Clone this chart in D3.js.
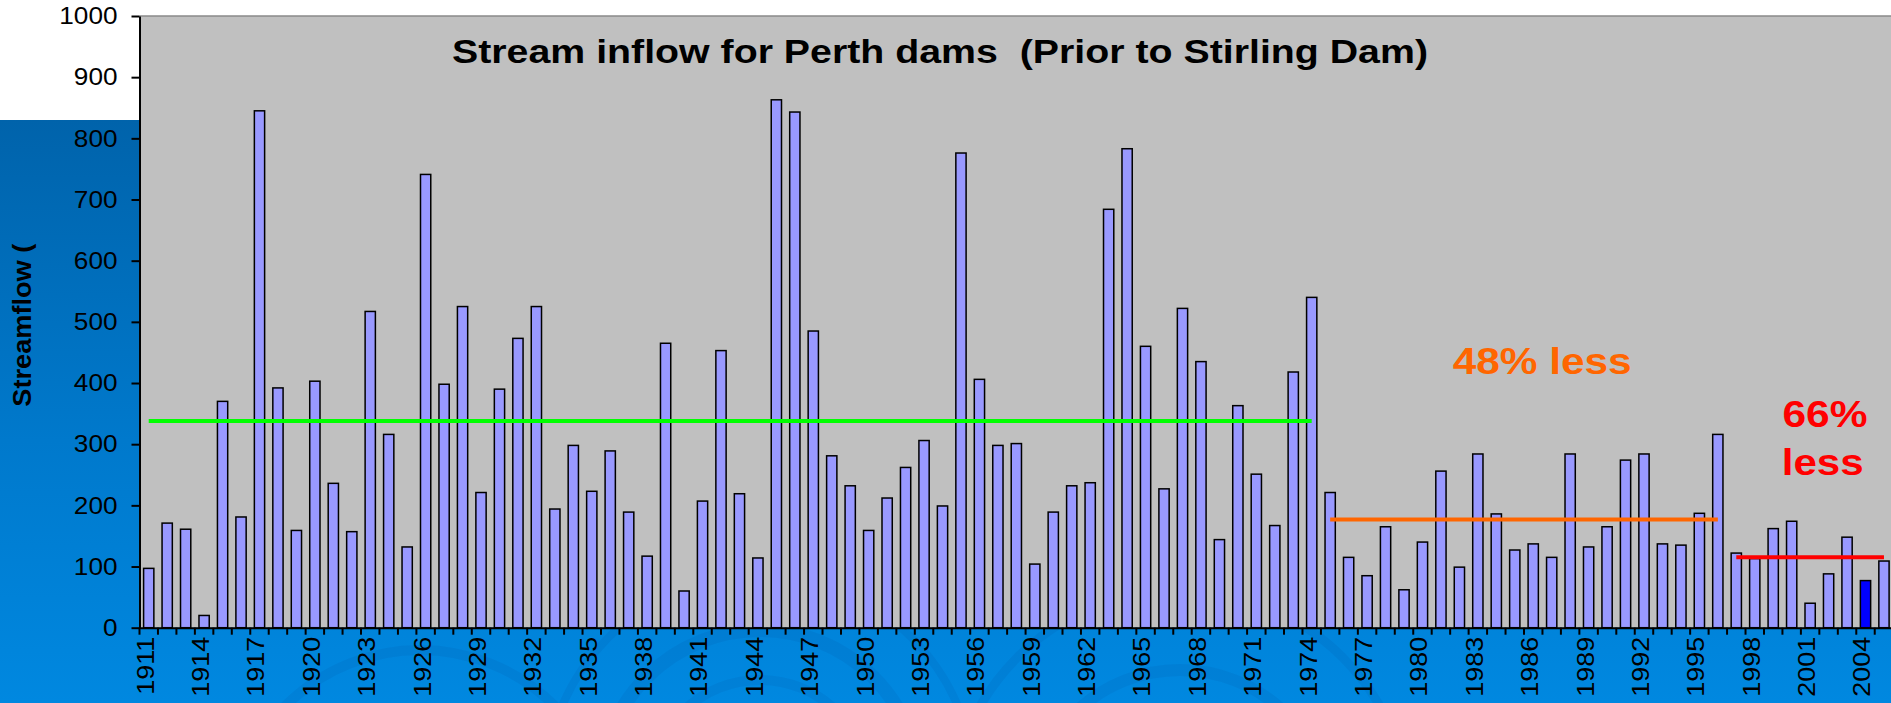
<!DOCTYPE html>
<html>
<head>
<meta charset="utf-8">
<script src="https://cdn.jsdelivr.net/npm/d3@7"></script>
<style>
  html, body { margin: 0; padding: 0; background: #fff; overflow: hidden; }
  svg { display: block; }
  text { white-space: pre; }
</style>
</head>
<body>
<svg id="chart" width="1891" height="703"></svg>
<script>
// Annual stream inflow to Perth dams, 1911–2005
const years = [
  1911, 1912, 1913, 1914, 1915, 1916, 1917, 1918, 1919, 1920,
  1921, 1922, 1923, 1924, 1925, 1926, 1927, 1928, 1929, 1930,
  1931, 1932, 1933, 1934, 1935, 1936, 1937, 1938, 1939, 1940,
  1941, 1942, 1943, 1944, 1945, 1946, 1947, 1948, 1949, 1950,
  1951, 1952, 1953, 1954, 1955, 1956, 1957, 1958, 1959, 1960,
  1961, 1962, 1963, 1964, 1965, 1966, 1967, 1968, 1969, 1970,
  1971, 1972, 1973, 1974, 1975, 1976, 1977, 1978, 1979, 1980,
  1981, 1982, 1983, 1984, 1985, 1986, 1987, 1988, 1989, 1990,
  1991, 1992, 1993, 1994, 1995, 1996, 1997, 1998, 1999, 2000,
  2001, 2002, 2003, 2004, 2005
];
const inflow = [
  97, 171, 161, 20, 370, 181, 845, 392, 159, 403,
  236, 157, 517, 316, 132, 741, 398, 525, 221, 390,
  473, 525, 194, 298, 223, 289, 189, 117, 465, 60,
  207, 453, 219, 114, 863, 843, 485, 281, 232, 159,
  212, 262, 306, 199, 776, 406, 298, 301, 104, 189,
  232, 237, 684, 783, 460, 227, 522, 435, 144, 363,
  251, 167, 418, 540, 221, 115, 85, 165, 62, 140,
  256, 99, 284, 186, 127, 137, 115, 284, 132, 165,
  274, 284, 137, 135, 187, 316, 122, 113, 162, 174,
  40, 88, 148, 77, 109
];
const highlightYear = 2004;

const labelYears = [
  1911, 1914, 1917, 1920, 1923, 1926, 1929, 1932, 1935, 1938, 1941,
  1944, 1947, 1950, 1953, 1956, 1959, 1962, 1965, 1968, 1971, 1974,
  1977, 1980, 1983, 1986, 1989, 1992, 1995, 1998, 2001, 2004
];
const yTicks = [0, 100, 200, 300, 400, 500, 600, 700, 800, 900, 1000];

// Period averages
const periodStart = [1911, 1975, 1997];
const periodEnd   = [1974, 1996, 2005];
const periodMean  = [338, 177, 115];

const periodColors = ["#00ff00", "#ff6600", "#ff0000"];
const FONT = "'Liberation Sans', Arial, Helvetica, sans-serif";

const W = 1891, H = 703;
const plot = { left: 139.5, top: 16, bottom: 627.7, right: 139.5 + years.length * 18.46 };

const svg = d3.select("#chart");

// ---------- background ----------
const defs = svg.append("defs");
const grad = defs.append("linearGradient")
  .attr("id", "bgBlue").attr("x1", 0).attr("y1", 0).attr("x2", 0).attr("y2", 1);
grad.append("stop").attr("offset", "0%").attr("stop-color", "#0063ab");
grad.append("stop").attr("offset", "55%").attr("stop-color", "#0079cc");
grad.append("stop").attr("offset", "100%").attr("stop-color", "#0088e0");

svg.append("rect").attr("x", 0).attr("y", 0).attr("width", W).attr("height", H).attr("fill", "#ffffff");
svg.append("rect").attr("x", 0).attr("y", 120).attr("width", W).attr("height", H - 120)
  .attr("fill", "url(#bgBlue)");

// faint swirl decoration in the lower band
defs.append("clipPath").attr("id", "lowerBand")
  .append("rect").attr("x", 0).attr("y", plot.bottom).attr("width", W).attr("height", H - plot.bottom);
const swirl = svg.append("g").attr("clip-path", "url(#lowerBand)")
  .attr("fill", "none").attr("stroke", "rgba(0,40,110,0.07)");
[[760, 790, 110, 10], [760, 790, 160, 14], [760, 790, 215, 8],
 [1180, 820, 150, 12], [1180, 820, 230, 9], [420, 840, 190, 10]]
  .forEach(([cx, cy, r, sw]) => swirl.append("circle")
    .attr("cx", cx).attr("cy", cy).attr("r", r).attr("stroke-width", sw));

// plot area
svg.append("rect")
  .attr("x", plot.left).attr("y", plot.top)
  .attr("width", W - plot.left).attr("height", plot.bottom - plot.top)
  .attr("fill", "#c0c0c0");
svg.append("line")
  .attr("x1", plot.left).attr("x2", W).attr("y1", plot.top).attr("y2", plot.top)
  .attr("stroke", "#8a8a8a").attr("stroke-width", 1.5);

// ---------- scales ----------
const x = d3.scaleBand()
  .domain(years)
  .range([plot.left, plot.right])
  .paddingInner(0.4444)
  .paddingOuter(0.2222);
const y = d3.scaleLinear().domain([0, 1000]).range([plot.bottom, plot.top]);
const center = yr => x(yr) + x.bandwidth() / 2;

// ---------- bars ----------
svg.append("g")
  .selectAll("rect")
  .data(years.map((yr, i) => ({ yr, v: inflow[i] })))
  .join("rect")
  .attr("x", d => x(d.yr))
  .attr("y", d => y(d.v))
  .attr("width", x.bandwidth())
  .attr("height", d => y(0) - y(d.v))
  .attr("fill", d => d.yr === highlightYear ? "#0000ff" : "#9999ff")
  .attr("stroke", "#000")
  .attr("stroke-width", 1.5);

// ---------- period average lines ----------
const avgLine = d3.line().x(d => center(d.yr)).y(d => y(d.v));
periodMean.forEach((m, i) => {
  const pts = years.filter(yr => yr >= periodStart[i] && yr <= periodEnd[i])
    .map(yr => ({ yr, v: m }));
  svg.append("path")
    .attr("d", avgLine(pts))
    .attr("fill", "none")
    .attr("stroke", periodColors[i])
    .attr("stroke-width", 4);
});

// helpers for the wide lettering
function stretchBy(sel, f) {
  sel.each(function () {
    const w = this.getComputedTextLength();
    d3.select(this).attr("textLength", w * f).attr("lengthAdjust", "spacingAndGlyphs");
  });
}
function fitTo(sel, width) {
  sel.attr("textLength", width).attr("lengthAdjust", "spacingAndGlyphs");
}

// ---------- axes ----------
const yAxis = svg.append("g")
  .attr("transform", `translate(${plot.left},0)`)
  .call(d3.axisLeft(y).tickValues(yTicks).tickFormat(d3.format("d"))
    .tickSize(8).tickSizeOuter(0).tickPadding(14));
yAxis.select(".domain").attr("stroke", "#000").attr("stroke-width", 2);
yAxis.selectAll(".tick line").attr("stroke", "#000").attr("stroke-width", 2);
yAxis.selectAll(".tick text")
  .attr("font-family", FONT).attr("font-size", 24).attr("fill", "#000")
  .call(stretchBy, 1.09);

const xAxis = svg.append("g")
  .attr("transform", `translate(0,${plot.bottom})`)
  .call(d3.axisBottom(x).tickValues(labelYears).tickSize(0).tickSizeOuter(0));
xAxis.select(".domain").attr("stroke", "#000").attr("stroke-width", 2);
xAxis.selectAll(".tick text")
  .attr("font-family", FONT).attr("font-size", 24.5).attr("fill", "#000")
  .attr("transform", "rotate(-90)")
  .attr("text-anchor", "end")
  .attr("x", -9).attr("y", 0).attr("dy", "0.2em")
  .call(stretchBy, 1.1);

// category boundary tick marks
const step = x.step();
const gap = step - x.bandwidth();
const boundaries = years.map(yr => x(yr) - gap / 2).concat([x(years[years.length - 1]) + x.bandwidth() + gap / 2]);
xAxis.append("g").selectAll("line")
  .data(boundaries)
  .join("line")
  .attr("x1", d => d).attr("x2", d => d)
  .attr("y1", 0).attr("y2", 7)
  .attr("stroke", "#000").attr("stroke-width", 2);

// ---------- text ----------
svg.append("text")
  .attr("x", 452).attr("y", 63)
  .attr("font-family", FONT).attr("font-weight", "bold").attr("font-size", 33)
  .attr("fill", "#000")
  .text("Stream inflow for Perth dams  (Prior to Stirling Dam)")
  .call(fitTo, 976);

svg.append("text")
  .attr("transform", "translate(30.5,406.7) rotate(-90)")
  .attr("font-family", FONT).attr("font-weight", "bold").attr("font-size", 25)
  .attr("fill", "#000")
  .text("Streamflow (")
  .call(fitTo, 163);

svg.append("text")
  .attr("x", 1452.7).attr("y", 374)
  .attr("font-family", FONT).attr("font-weight", "bold").attr("font-size", 36)
  .attr("fill", "#ff6600")
  .text("48% less")
  .call(fitTo, 179);

svg.append("text")
  .attr("x", 1782.5).attr("y", 427.3)
  .attr("font-family", FONT).attr("font-weight", "bold").attr("font-size", 36)
  .attr("fill", "#ff0000")
  .text("66%")
  .call(fitTo, 85);
svg.append("text")
  .attr("x", 1781.7).attr("y", 475)
  .attr("font-family", FONT).attr("font-weight", "bold").attr("font-size", 36)
  .attr("fill", "#ff0000")
  .text("less")
  .call(fitTo, 82);
</script>
</body>
</html>
